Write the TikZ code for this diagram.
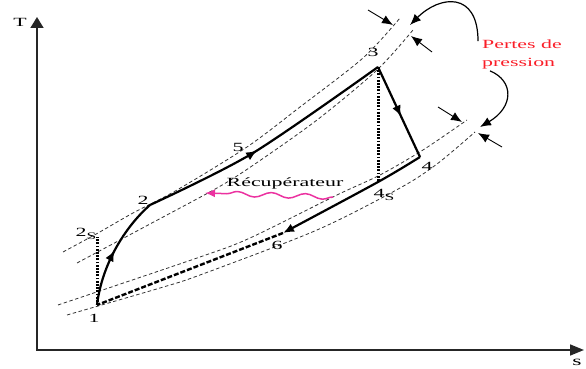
\documentclass[tikz,border=0pt]{standalone}
\usepackage{fontspec}
\setmainfont{Liberation Serif}[FakeStretch=1.75]
\usetikzlibrary{arrows.meta,decorations.pathmorphing,decorations.markings}
\definecolor{lossred}{RGB}{250,30,40}
\definecolor{recpink}{RGB}{235,50,160}

\begin{document}
\begin{tikzpicture}[x=1pt,y=1pt,font=\fontsize{12.5}{18}\selectfont,
    axis/.style={line width=1.6pt,draw=black!85,
      {Triangle[length=11pt,width=13pt]}-{Triangle[length=14pt,width=11pt]}},
    cyclepath/.style={line width=2.2pt},
    heavydash/.style={line width=2.4pt,dash pattern=on 5pt off 2pt},
    isentrope/.style={line width=3pt,dash pattern=on 1.8pt off 1.4pt},
    isobar/.style={line width=0.8pt,dash pattern=on 3.5pt off 2.5pt,draw=black!80},
    midarrow/.style={postaction={decorate},decoration={markings,
      mark=at position #1 with {\arrow{Latex[length=11pt,width=9pt]}}}},
    lossarrow/.style={line width=0.9pt,-{Latex[length=11pt,width=9pt]}},
    lbl/.style={inner sep=0pt}]
  \useasboundingbox (0,0) rectangle (586,369);

  % axes
  \coordinate (O) at (37,19);
  \coordinate (Tend) at (37,352);
  \coordinate (Send) at (584,19);
  \draw[axis] (Tend) -- (O) -- (Send);
  \node[lbl] (Tlabel) at (20,347) {T};
  \node[lbl,font=\fontsize{13.5}{14}\selectfont] (slabel) at (577,7) {s};

  % isobars
  \draw[isobar] plot[smooth] coordinates {(63,117) (98,136) (133,156) (177,179) (247,222) (300,262) (363,311) (400,351)};
  \draw[isobar] plot[smooth] coordinates {(77,106) (150,145) (217,181) (252,203) (317,249) (377,299) (413,339)};
  \draw[isobar] plot[smooth] coordinates {(58,64) (200,112) (250,131) (337,174) (380,194) (423,219) (467,249)};
  \draw[isobar] plot[smooth] coordinates {(67,54) (160,81) (200,94) (317,139) (400,181) (437,205) (475,237)};

  % cycle points
  \coordinate (p1) at (97,64);
  \coordinate (p2s) at (97,132);
  \coordinate (p2) at (150,164);
  \coordinate (p5) at (253,216);
  \coordinate (p3) at (378,302);
  \coordinate (p4) at (420,212);
  \coordinate (p4s) at (378,187);
  \coordinate (p6) at (283,136);

  \draw[isentrope] (p1) -- (p2s);
  \draw[isentrope] (p3) -- (p4s);
  \draw[cyclepath,midarrow=0.5] (p1) .. controls (102,105) and (125,142) .. (p2);
  \draw[cyclepath,midarrow=0.45] plot[smooth] coordinates {(p2) (p5) (p3)};
  \draw[cyclepath,midarrow=0.55] (p3) -- (p4);
  \draw[cyclepath,-{Latex[length=11pt,width=9pt]}] plot[smooth] coordinates {(p4) (p4s) (p6)};
  \draw[heavydash] (p6) -- (p1);

  \node[lbl] (l1) at (94,51) {1};
  \node[lbl] (l2s) at (86,135) {2\raisebox{-3pt}{\fontsize{10}{10}\selectfont S}};
  \node[lbl] (l2) at (143,169) {2};
  \node[lbl] (l5) at (238,222) {5};
  \node[lbl] (l3) at (373,317) {3};
  \node[lbl] (l4) at (427,203) {4};
  \node[lbl] (l4s) at (384,174) {4\raisebox{-3pt}{\fontsize{10}{10}\selectfont S}};
  \node[lbl] (l6) at (277,124) {6};

  % recuperateur
  \node[lbl] (rec) at (285,186) {Récupérateur};
  \coordinate (recR) at (333,172);
  \coordinate (recL) at (205,176);
  \draw[recpink,line width=1.5pt,-{Latex[length=10pt,width=8pt]},
    decorate,decoration={snake,amplitude=2.5pt,segment length=34pt,post length=10pt}]
    (recR) -- (recL);

  % pressure losses
  \node[lbl,text=lossred,align=left] (loss) at (522,315) {Pertes de\\pression};
  \coordinate (a1s) at (368,359);
  \coordinate (a1e) at (393,344);
  \coordinate (a2s) at (432,317);
  \coordinate (a2e) at (411,333);
  \coordinate (a3s) at (438,262);
  \coordinate (a3e) at (462,247);
  \coordinate (a4s) at (502,222);
  \coordinate (a4e) at (478,236);
  \draw[lossarrow] (a1s) -- (a1e);
  \draw[lossarrow] (a2s) -- (a2e);
  \draw[lossarrow] (a3s) -- (a3e);
  \draw[lossarrow] (a4s) -- (a4e);
  \coordinate (topTip) at (410,344);
  \coordinate (lowTip) at (480,242);
  \draw[lossarrow,line width=1.2pt] (loss.north west) ++(-4,-2) .. controls +(0,50) and (440,374) .. (topTip);
  \draw[lossarrow,line width=1.2pt] (loss.south west) ++(8,-2) .. controls +(24,-10) and (514,262) .. (lowTip);
\end{tikzpicture}
\end{document}
